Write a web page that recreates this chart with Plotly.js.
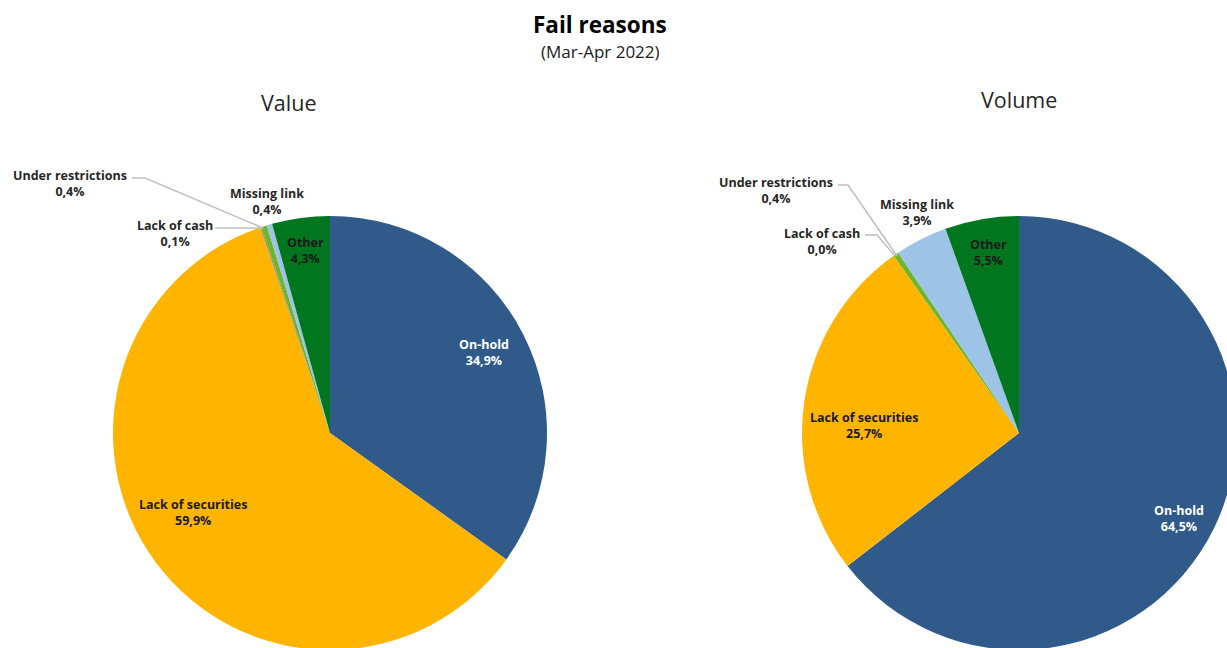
<!DOCTYPE html>
<html>
<head>
<meta charset="utf-8">
<script src="https://cdn.plot.ly/plotly-3.0.1.min.js"></script>
<style>
html,body{margin:0;padding:0;overflow:hidden;background:#fff;width:1227px;height:648px;}
#chart{width:1240px;height:660px;}
</style>
</head>
<body>
<div id="chart"></div>
<script>
// ---- data ----
const categories = ["On-hold", "Lack of securities", "Lack of cash", "Under restrictions", "Missing link", "Other"];
const valueShares = [34.9, 59.9, 0.1, 0.4, 0.4, 4.3];
const volumeShares = [64.5, 25.7, 0.0, 0.4, 3.9, 5.5];
const chartTitle = "Fail reasons";
const chartSubtitle = "(Mar-Apr 2022)";
const pieTitles = ["Value", "Volume"];

// ---- styling ----
const colors = ["#2F5A89", "#FFB400", "#8C8C8C", "#6FB52C", "#9DC3E6", "#00761E"];
const W = 1240, H = 660;
const px = x => x / W;
const py = y => 1 - y / H;
const FONT = "Open Sans, Noto Sans, sans-serif";

function fmt(v) { return v.toFixed(1).replace(".", ",") + "%"; }

const pies = [
  {values: valueShares, cx: 330, cy: 433, r: 217},
  {values: volumeShares, cx: 1019, cy: 433, r: 217}
];

const traces = pies.map(p => ({
  type: "pie",
  labels: categories,
  values: p.values,
  sort: false,
  direction: "clockwise",
  rotation: 0,
  textinfo: "none",
  hoverinfo: "label+percent",
  marker: {colors: colors, line: {width: 0}},
  showlegend: false,
  domain: {x: [px(p.cx - p.r), px(p.cx + p.r)], y: [py(p.cy + p.r), py(p.cy - p.r)]}
}));

// label positions (pixel centres) per pie, per category
const labelPos = [
  [[484, 353, "#FFFFFF"], [193, 512, "#1A1A1A"], [175, 234, "#262626"], [70, 183, "#262626"], [267, 202, "#262626"], [305, 250, "#1A1A1A"]],
  [[1179, 518, "#FFFFFF"], [864, 425, "#1A1A1A"], [822, 241, "#262626"], [776, 191, "#262626"], [917, 212, "#262626"], [988, 252, "#1A1A1A"]]
];

const annotations = [
  {text: "<b>" + chartTitle + "</b>", x: px(600), y: py(24), xref: "paper", yref: "paper", showarrow: false,
   xanchor: "center", yanchor: "middle", font: {family: FONT, size: 22.5, color: "#000"}},
  {text: chartSubtitle, x: px(600), y: py(52), xref: "paper", yref: "paper", showarrow: false,
   xanchor: "center", yanchor: "middle", font: {family: FONT, size: 17, color: "#1A1A1A"}},
  {text: pieTitles[0], x: px(288), y: py(102), xref: "paper", yref: "paper", showarrow: false,
   xanchor: "center", yanchor: "middle", font: {family: FONT, size: 21.5, color: "#262626"}},
  {text: pieTitles[1], x: px(1019), y: py(100), xref: "paper", yref: "paper", showarrow: false,
   xanchor: "center", yanchor: "middle", font: {family: FONT, size: 21.5, color: "#262626"}}
];

pies.forEach((p, i) => {
  categories.forEach((c, j) => {
    const lp = labelPos[i][j];
    annotations.push({
      text: "<b>" + c + "<br>" + fmt(p.values[j]) + "</b>",
      x: px(lp[0]), y: py(lp[1]), xref: "paper", yref: "paper", showarrow: false,
      xanchor: "center", yanchor: "middle", align: "center",
      font: {family: FONT, size: 12.5, color: lp[2]}
    });
  });
});

// leader lines
const leaders = [
  [[132, 178], [145, 178], [263, 228]],
  [[215, 228], [263, 228]],
  [[838, 185], [848, 185], [897, 256]],
  [[865, 235], [877, 235], [895, 256]]
];
const shapes = leaders.map(pts => ({
  type: "path", xref: "paper", yref: "paper",
  path: pts.map((pt, k) => (k ? "L" : "M") + px(pt[0]) + "," + py(pt[1])).join(" "),
  line: {color: "#BFBFBF", width: 1.5}
}));

const layout = {
  width: W, height: H,
  margin: {l: 0, r: 0, t: 0, b: 0, pad: 0},
  paper_bgcolor: "#FFFFFF",
  plot_bgcolor: "#FFFFFF",
  annotations: annotations,
  shapes: shapes,
  font: {family: FONT}
};

Plotly.newPlot("chart", traces, layout, {displayModeBar: false, staticPlot: true});
</script>
</body>
</html>
